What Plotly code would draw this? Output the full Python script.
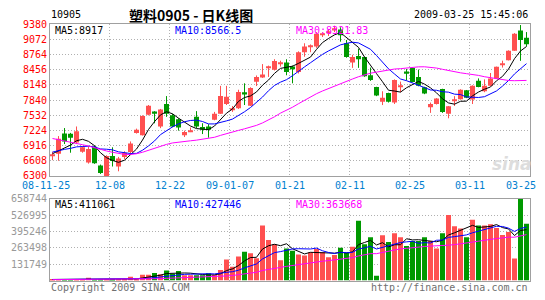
import plotly.graph_objects as go
import pandas as pd

W, H = 545, 300

# ---------------- data ----------------
open_px = [6700, 6751, 7161, 7155, 6979, 6790, 6570, 6894, 6511, 6300,
           6706, 6491, 6686, 6784, 7174, 7128, 7544, 7609, 7304, 7759,
           7531, 7453, 7128, 7200, 7499, 7291, 7304, 7440, 7564, 7759,
           7650, 7675, 7999, 7727, 8214, 8298, 8487, 8454, 8580, 8604,
           8520, 8409, 8812, 8920, 8929, 9165, 9215, 9254, 9274, 8994,
           8604, 8734, 8714, 8344, 8104, 7804, 7986, 7791, 8120, 8422,
           8493, 8311, 8103, 7694, 7759, 8064, 7564, 7835, 7857, 8038,
           7851, 8233, 8019, 8129, 8279, 8565, 8650, 8844, 9254, 9104]
high_px = [6790, 7109, 7272, 7174, 7304, 6900, 6900, 6920, 6530, 6720,
           6881, 6686, 6800, 7000, 7260, 7530, 7740, 7615, 7660, 7921,
           7560, 7470, 7220, 7284, 7616, 7370, 7350, 7600, 8129, 8129,
           7720, 8050, 8181, 8100, 8340, 8571, 8540, 8670, 8640, 8669,
           8540, 8830, 8994, 8970, 9220, 9220, 9272, 9350, 9319, 9060,
           8760, 8884, 8720, 8500, 8110, 8019, 7990, 8260, 8215, 8470,
           8500, 8460, 8110, 7790, 7880, 8070, 7720, 7920, 8060, 8045,
           8140, 8280, 8260, 8390, 8520, 8640, 8850, 9200, 9364, 9221]
low_px = [6620, 6608, 6947, 6771, 6947, 6770, 6550, 6545, 6340, 6290,
          6491, 6394, 6640, 6750, 7160, 7120, 7530, 7369, 7270, 7499,
          7290, 7220, 7090, 7190, 7270, 7150, 7076, 7430, 7560, 7740,
          7600, 7660, 7740, 7720, 8125, 8290, 8310, 8440, 8520, 8344,
          8180, 8380, 8720, 8812, 8900, 9120, 9140, 9220, 9026, 8700,
          8494, 8494, 8312, 8230, 7920, 7739, 7790, 7760, 8000, 8240,
          8200, 8120, 7960, 7580, 7750, 7580, 7470, 7720, 7850, 7880,
          7760, 8100, 8000, 8125, 8275, 8500, 8645, 8840, 8637, 8929]
close_px = [6730, 7057, 6998, 7077, 7207, 6880, 6849, 6556, 6361, 6706,
            6602, 6654, 6771, 6960, 7239, 7518, 7727, 7564, 7648, 7564,
            7304, 7285, 7193, 7220, 7304, 7239, 7239, 7564, 7921, 7908,
            7670, 8006, 7954, 8084, 8311, 8357, 8526, 8636, 8590, 8409,
            8480, 8812, 8929, 8935, 9189, 9175, 9225, 9300, 9156, 8714,
            8714, 8669, 8325, 8247, 7934, 7889, 7804, 8247, 8135, 8376,
            8207, 8129, 7973, 7759, 7870, 7596, 7714, 7845, 8051, 7889,
            8129, 8104, 8129, 8279, 8519, 8575, 8844, 9189, 9059, 8974]
volume = [12000, 10000, 9000, 9000, 8000, 9000, 22000, 9000, 8000, 9000,
          8000, 8000, 9000, 30000, 12000, 46000, 46000, 62000, 50000, 82000,
          55000, 77000, 42000, 42000, 42000, 42000, 60000, 45000, 85000, 171000,
          111000, 194000, 233000, 220000, 181000, 444000, 327000, 293000, 163000, 259000,
          241000, 210000, 202000, 228000, 254000, 228000, 189000, 207000, 264000, 225000,
          272000, 483000, 293000, 350000, 38000, 366000, 311000, 381000, 350000, 280000,
          319000, 319000, 350000, 319000, 259000, 381000, 530000, 439000, 420000, 350000,
          490000, 445000, 445000, 455000, 425000, 368000, 392000, 178000, 658744, 459000]
# closes / volumes of the sessions before the first bar (only feed the moving averages)
warmup_close = [7900, 7850, 7800, 7760, 7700, 7650, 7600, 7550, 7480, 7400,
                7380, 7350, 7000, 6800, 6600, 6450, 6400, 6420, 6450, 6424,
                6700, 6800, 6880, 6900, 6805, 6780, 6720, 6760, 6765]
warmup_volume = [6000, 5800, 6200, 5900, 6100, 6500, 6300, 6000, 6400, 6800,
                 7000, 6600, 7200, 6900, 7100, 7400, 7000, 7300, 7600, 7200,
                 7500, 7800, 7400, 8000, 7700, 8200, 7900, 8300, 8100]

date_labels = ["08-11-25", "12-08", "12-22", "09-01-07", "01-21", "02-11", "02-25", "03-11", "03-25"]
date_label_bar = [0, 9, 19, 29, 39, 49, 59, 69, 79]
price_ticks = [6300, 6608, 6916, 7224, 7532, 7840, 8148, 8456, 8764, 9072, 9380]
volume_ticks = [131749, 263498, 395246, 526995, 658744]

code_text = "10905"
title_text = "塑料0905 - 日K线图"
stamp_text = "2009-03-25 15:45:06"
price_legend = ["MA5:8917", "MA10:8566.5", "MA30:8321.83"]
volume_legend = ["MA5:411061", "MA10:427446", "MA30:363668"]
copyright_text = "Copyright 2009 SINA.COM"
url_text = "http://finance.sina.com.cn"

# ---------------- styles ----------------
RED = "#FF5050"
GREEN = "#009900"
MA_COLORS = ["#000000", "#0000FF", "#FF00FF"]
MA_WINDOWS = [5, 10, 30]
MONO = "DejaVu Sans Mono"
GRID = "#B0B0B0"
FRAME = "#A0A0A0"

n = len(close_px)
xs = list(range(n))
up = [c >= o for o, c in zip(open_px, close_px)]


def moving_average(hist, vals, w):
    s = pd.Series(list(hist) + list(vals), dtype=float).rolling(w).mean()
    return s.iloc[len(hist):].tolist()


fig = go.Figure()

BAR_W = 5 / 6
MIN_BODY = 16  # keep doji bodies one pixel tall

for is_up, col in [(True, RED), (False, GREEN)]:
    sel = [i for i in xs if up[i] == is_up]
    wx, wy = [], []
    for i in sel:
        wx += [i, i, None]
        wy += [low_px[i], high_px[i], None]
    fig.add_trace(go.Scatter(x=wx, y=wy, mode="lines", line=dict(color=col, width=1),
                             xaxis="x", yaxis="y", hoverinfo="skip"))
    fig.add_trace(go.Bar(
        x=sel,
        y=[max(abs(close_px[i] - open_px[i]), MIN_BODY) for i in sel],
        base=[min(open_px[i], close_px[i]) for i in sel],
        width=BAR_W, marker=dict(color=col, line=dict(width=0)),
        xaxis="x", yaxis="y", hoverinfo="skip"))
    fig.add_trace(go.Bar(
        x=sel, y=[volume[i] for i in sel], width=BAR_W,
        marker=dict(color=col, line=dict(width=0)),
        xaxis="x2", yaxis="y2", hoverinfo="skip"))

for w, col in zip(MA_WINDOWS, MA_COLORS):
    fig.add_trace(go.Scatter(x=xs, y=moving_average(warmup_close, close_px, w), mode="lines",
                             line=dict(color=col, width=1), xaxis="x", yaxis="y",
                             hoverinfo="skip"))
    fig.add_trace(go.Scatter(x=xs, y=moving_average(warmup_volume, volume, w), mode="lines",
                             line=dict(color=col, width=1), xaxis="x2", yaxis="y2",
                             hoverinfo="skip"))

# ---------------- layout ----------------
def px_x(p):
    return p / W


def px_y(p):
    return 1 - p / H


x_dom = [px_x(50), px_x(530)]
x_range = [-0.5 + 1 / 12, n - 0.5 + 1 / 12]
grid_x = [i + 0.5 for i in date_label_bar[1:-1]]

common_x = dict(domain=x_dom, range=x_range, tickvals=grid_x, showticklabels=False, ticks="",
                showgrid=True, gridcolor=GRID, griddash="1px,2px", gridwidth=1,
                showline=True, mirror=True, linecolor=FRAME, linewidth=1,
                zeroline=False, fixedrange=True)

fig.update_layout(
    width=W, height=H, margin=dict(l=0, r=0, t=0, b=0),
    paper_bgcolor="white", plot_bgcolor="white",
    showlegend=False, hovermode=False, barmode="overlay",
    xaxis=dict(anchor="y", **common_x),
    xaxis2=dict(anchor="y2", matches="x", **common_x),
    yaxis=dict(domain=[px_y(177), px_y(19)], range=[price_ticks[0], price_ticks[-1]],
               tickvals=price_ticks, ticktext=[str(v) for v in price_ticks], ticks="",
               tickfont=dict(family=MONO, size=10, color="#FF0000"),
               showgrid=True, gridcolor=GRID, griddash="1px,2px", gridwidth=1,
               showline=True, mirror=True, linecolor=FRAME, linewidth=1,
               zeroline=False, fixedrange=True, anchor="x"),
    yaxis2=dict(domain=[px_y(286), px_y(201)], range=[0, volume_ticks[-1]],
                tickvals=volume_ticks, ticktext=[str(v) for v in volume_ticks], ticks="",
                tickfont=dict(family=MONO, size=10, color="#999999"),
                showgrid=True, gridcolor=GRID, griddash="1px,2px", gridwidth=1,
                showline=True, mirror=True, linecolor=FRAME, linewidth=1,
                zeroline=False, fixedrange=True, anchor="x2"),
)

ann = []


def text(t, x, y, color="#000000", size=10, anchor="left", family=MONO, **kw):
    ann.append(dict(text=t, x=px_x(x), y=px_y(y), xref="paper", yref="paper",
                    xanchor=anchor, yanchor="middle", showarrow=False,
                    font=dict(family=family, size=size, color=color), **kw))


text(code_text, 49, 9)
text("<b>" + title_text + "</b>", 191, 9, size=14, anchor="center", family="Noto Sans CJK SC")
text(stamp_text, 530, 9, anchor="right")
for t, xp, col in zip(price_legend, [53, 173, 294], MA_COLORS):
    text(t, xp, 25, color=col)
for t, xp, col in zip(volume_legend, [53, 173, 294], MA_COLORS):
    text(t, xp, 207, color=col)
text(copyright_text, 49, 293, color="#707070")
text(url_text, 530, 293, color="#707070", anchor="right")
text("<b><i>sina</i></b>", 512, 165, color="#DDDDDD", size=17, anchor="center",
     family="DejaVu Sans")

# date labels under the price panel, placed on the x scale
last = len(date_labels) - 1
for k, (lab, bar) in enumerate(zip(date_labels, date_label_bar)):
    if k == 0:
        xv, shift = bar - 0.4, -4
    elif k == last:
        xv, shift = bar + 0.4, -8
    else:
        xv, shift = bar + 0.5, 0
    ann.append(dict(text=lab, x=xv, y=px_y(187), xref="x", yref="paper",
                    xanchor="center", yanchor="middle", showarrow=False, xshift=shift,
                    font=dict(family=MONO, size=10, color="#0080D0")))

fig.update_layout(annotations=ann)

fig.write_html("out.html")
